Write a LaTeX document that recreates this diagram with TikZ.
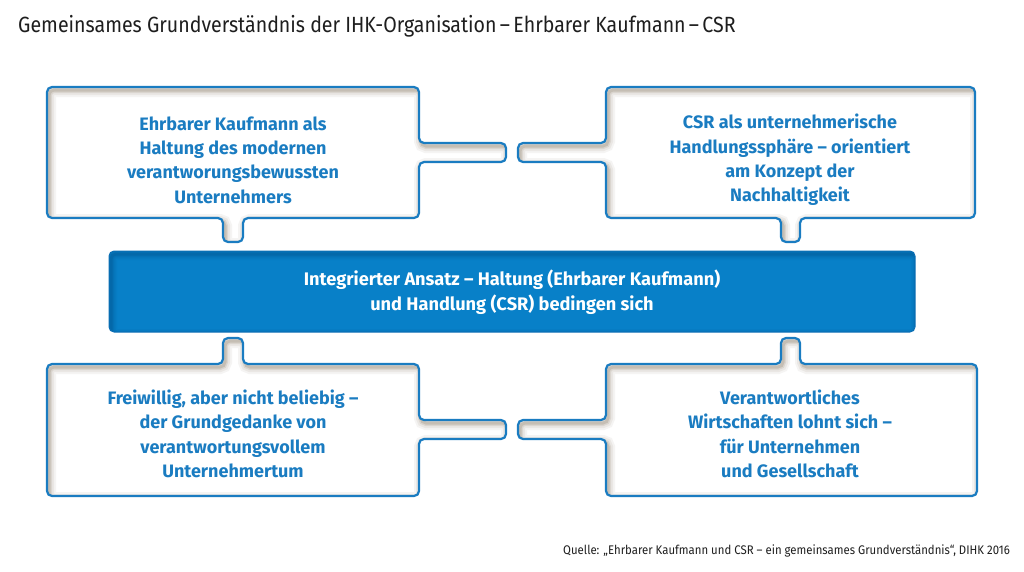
\documentclass[tikz,border=0pt]{standalone}
\usepackage{fontspec}
\setmainfont{Fira Sans}
\usetikzlibrary{calc}
\definecolor{ihkblue}{RGB}{26,124,193}
\definecolor{midblue}{RGB}{8,128,200}
\definecolor{midedge}{RGB}{10,110,180}
\definecolor{darkblue}{RGB}{0,70,125}
\definecolor{shadowc}{RGB}{125,110,85}
\definecolor{titlec}{RGB}{30,30,30}
\tikzset{
  boxtext/.style={align=center, text=ihkblue, font=\fontsize{18}{24.4}\selectfont\bfseries},
  midtext/.style={align=center, text=white, font=\fontsize{18.2}{24.4}\selectfont\bfseries},
  outline/.style={draw=ihkblue, line width=2.2pt, rounded corners=5pt},
}
\newcommand\insetbox[1]{%
  \begin{scope}
    \clip[rounded corners=5pt] #1;
    \fill[white] (0,0) rectangle (1024,571);
    \foreach \w/\o in {14/0.07,10/0.09,6/0.14,3/0.22}
      \draw[shadowc, line width=\w pt, opacity=\o, rounded corners=5pt, shift={(2,3)}] #1;
  \end{scope}
  \draw[outline] #1;
}
\begin{document}
\begin{tikzpicture}[x=1pt,y=-1pt]
\useasboundingbox (0,0) rectangle (1024,571);
\fill[white] (0,0) rectangle (1024,571);

% title
\node[anchor=west, inner sep=0, text=titlec, font=\fontsize{22}{26}\selectfont] (title) at (18,26)
  {\scalebox{0.89}[1]{Gemeinsames Grundverständnis der IHK-Organisation\,–\,Ehrbarer Kaufmann\,–\,CSR}};

% top-left box
\insetbox{(47,87) -- (419,87) -- (419,143) -- (506,143) -- (506,162) -- (419,162) -- (419,218) -- (243,218) -- (243,242) -- (223,242) -- (223,218) -- (47,218) -- cycle}
% top-right box
\insetbox{(606,87) -- (975,87) -- (975,218) -- (800,218) -- (800,242) -- (781,242) -- (781,218) -- (606,218) -- (606,162) -- (518,162) -- (518,143) -- (606,143) -- cycle}
% bottom-left box
\insetbox{(47,364) -- (223,364) -- (223,338) -- (243,338) -- (243,364) -- (419,364) -- (419,420) -- (506,420) -- (506,439) -- (419,439) -- (419,496) -- (47,496) -- cycle}
% bottom-right box
\insetbox{(606,364) -- (781,364) -- (781,338) -- (800,338) -- (800,364) -- (977,364) -- (977,496) -- (606,496) -- (606,439) -- (518,439) -- (518,420) -- (606,420) -- cycle}

% middle bar
\begin{scope}
  \clip[rounded corners=5pt] (109,251) rectangle (915,332);
  \fill[midblue] (109,251) rectangle (915,332);
  \foreach \w/\o in {12/0.06,9/0.08,6/0.12,3/0.2}
    \draw[darkblue, line width=\w pt, opacity=\o, rounded corners=5pt, shift={(2,3)}] (109,251) rectangle (915,332);
\end{scope}
\draw[midedge, line width=1pt, rounded corners=5pt] (109,251) rectangle (915,332);

\node[boxtext] (tl) at (233,160) {Ehrbarer Kaufmann als\\Haltung des modernen\\verantworungsbewussten\\Unternehmers};
\node[boxtext] (tr) at (790,160) {CSR als unternehmerische\\Handlungssphäre – orientiert\\am Konzept der\\Nachhaltigkeit};
\node[midtext] (mid) at (512,292) {Integrierter Ansatz – Haltung (Ehrbarer Kaufmann)\\und Handlung (CSR) bedingen sich};
\node[boxtext] (bl) at (233,434) {Freiwillig, aber nicht beliebig –\\der Grundgedanke von\\verantwortungsvollem\\Unternehmertum};
\node[boxtext] (br) at (790,434) {Verantwortliches\\Wirtschaften lohnt sich –\\für Unternehmen\\und Gesellschaft};

% source
\node[anchor=east, inner sep=0, text=titlec, font=\fontsize{12.5}{14}\selectfont] (src) at (1010,551)
  {\scalebox{0.91}[1]{Quelle: „Ehrbarer Kaufmann und CSR – ein gemeinsames Grundverständnis“, DIHK 2016}};
\end{tikzpicture}
\end{document}
